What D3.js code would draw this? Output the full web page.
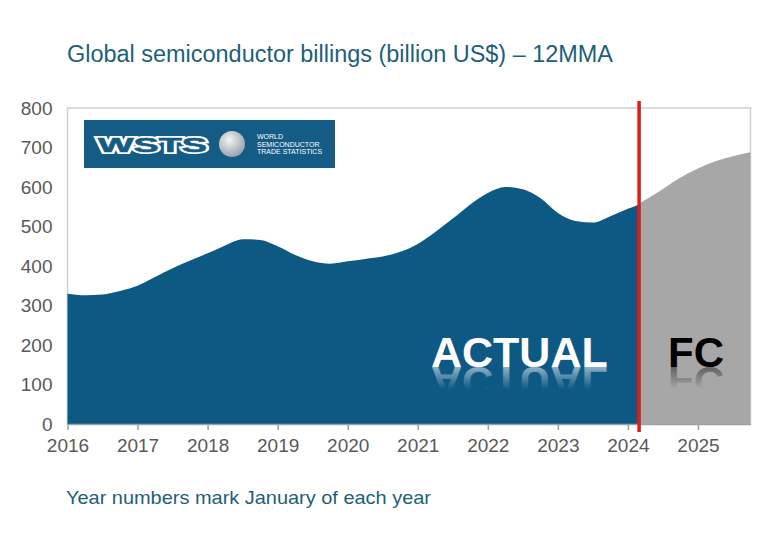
<!DOCTYPE html>
<html>
<head>
<meta charset="utf-8">
<script src="https://cdn.jsdelivr.net/npm/d3@7"></script>
<style>
  body { margin: 0; background: #fff; }
  svg text { font-family: "Liberation Sans", Arial, sans-serif; }
</style>
</head>
<body>
<div id="chart"></div>
<script>
// data (year as decimal, billion US$)
const actualYears = [2016.0, 2016.25, 2016.5, 2016.75, 2017.0, 2017.25, 2017.5, 2017.75,
  2018.0, 2018.25, 2018.5, 2018.75, 2019.0, 2019.25, 2019.5, 2019.75,
  2020.0, 2020.25, 2020.5, 2020.75, 2021.0, 2021.25, 2021.5, 2021.75,
  2022.0, 2022.25, 2022.5, 2022.75, 2023.0, 2023.25, 2023.5, 2023.75, 2024.0, 2024.16];
const actualValues = [330, 326, 328, 337, 350, 372, 394, 414,
  432, 452, 468, 466, 450, 428, 412, 406,
  412, 418, 424, 436, 456, 486, 520, 556,
  585, 600, 594, 572, 534, 514, 510, 526, 545, 556];
const fcYears = [2024.16, 2024.5, 2024.75, 2025.0, 2025.25, 2025.5, 2025.75];
const fcValues = [558, 595, 624, 647, 665, 678, 688];
const yearTicks = [2016, 2017, 2018, 2019, 2020, 2021, 2022, 2023, 2024, 2025];
const valueTicks = [0, 100, 200, 300, 400, 500, 600, 700, 800];
const cutYear = 2024.16;

const width = 768, height = 549;
const svg = d3.select("#chart").append("svg")
  .attr("width", width).attr("height", height);

const x = d3.scaleLinear().domain([2016, 2025.75]).range([67.5, 750.5]);
const y = d3.scaleLinear().domain([0, 800]).range([424, 108]);

const defs = svg.append("defs");
const fadeW = defs.append("linearGradient").attr("id", "fadeWhite")
  .attr("x1", 0).attr("y1", 0).attr("x2", 0).attr("y2", 1);
fadeW.append("stop").attr("offset", "0.35").attr("stop-color", "#fff").attr("stop-opacity", 0);
fadeW.append("stop").attr("offset", "1").attr("stop-color", "#fff").attr("stop-opacity", 0.75);
const fadeB = defs.append("linearGradient").attr("id", "fadeBlack")
  .attr("x1", 0).attr("y1", 0).attr("x2", 0).attr("y2", 1);
fadeB.append("stop").attr("offset", "0.35").attr("stop-color", "#000").attr("stop-opacity", 0);
fadeB.append("stop").attr("offset", "1").attr("stop-color", "#000").attr("stop-opacity", 0.6);
const globe = defs.append("radialGradient").attr("id", "globe")
  .attr("cx", "40%").attr("cy", "35%").attr("r", "65%");
globe.append("stop").attr("offset", "0").attr("stop-color", "#f4f4f4");
globe.append("stop").attr("offset", "1").attr("stop-color", "#9aa4ab");

// title
svg.append("text")
  .attr("x", 67).attr("y", 62)
  .attr("textLength", 546).attr("lengthAdjust", "spacingAndGlyphs")
  .style("font-size", "23px").style("fill", "#1d5f78")
  .text("Global semiconductor billings (billion US$) \u2013 12MMA");

// plot frame
svg.append("rect")
  .attr("x", x(2016)).attr("y", y(800))
  .attr("width", x(2025.75) - x(2016)).attr("height", y(0) - y(800))
  .attr("fill", "none").attr("stroke", "#cfcfcf").attr("stroke-width", 1.5);

// areas
const area = d3.area()
  .x(d => x(d[0])).y0(y(0)).y1(d => y(d[1]))
  .curve(d3.curveMonotoneX);

svg.append("path")
  .datum(fcYears.map((d, i) => [d, fcValues[i]]))
  .attr("d", area).attr("fill", "#a7a7a7");

svg.append("path")
  .datum(actualYears.map((d, i) => [d, actualValues[i]]))
  .attr("d", area).attr("fill", "#0e5984");

// logo
const logo = svg.append("g");
logo.append("rect").attr("x", 84).attr("y", 120).attr("width", 251).attr("height", 48)
  .attr("fill", "#145b85");
logo.append("text").attr("x", 98).attr("y", 152)
  .attr("textLength", 109).attr("lengthAdjust", "spacingAndGlyphs")
  .style("font-size", "21px").style("font-weight", "bold")
  .style("fill", "none").style("stroke", "#fff").style("stroke-width", 4)
  .style("stroke-linejoin", "miter")
  .text("WSTS");
logo.append("text").attr("x", 98).attr("y", 152)
  .attr("textLength", 109).attr("lengthAdjust", "spacingAndGlyphs")
  .style("font-size", "21px").style("font-weight", "bold")
  .style("fill", "#145b85").style("stroke", "#145b85").style("stroke-width", 0.6)
  .text("WSTS");
logo.append("circle").attr("cx", 232).attr("cy", 144).attr("r", 13)
  .attr("fill", "url(#globe)");
logo.selectAll("text.sub")
  .data(["WORLD", "SEMICONDUCTOR", "TRADE STATISTICS"])
  .join("text").attr("class", "sub")
  .attr("x", 257).attr("y", (d, i) => 139 + i * 7.5)
  .style("font-size", "7px").style("fill", "#fff")
  .text(d => d);

// labels with reflections
function label(txt, x0, base, size, fill, grad) {
  svg.append("text").attr("x", x0).attr("y", base)
    .style("font-size", size + "px").style("font-weight", "bold").style("fill", fill)
    .text(txt);
  svg.append("text").attr("x", x0).attr("y", -base)
    .attr("transform", "scale(1,-1)")
    .style("font-size", size + "px").style("font-weight", "bold")
    .style("fill", "url(#" + grad + ")")
    .text(txt);
}
label("ACTUAL", 431, 367, 43, "#fff", "fadeWhite");
label("FC", 668, 367, 42, "#000", "fadeBlack");

// axes
const yAxis = svg.append("g")
  .attr("transform", `translate(${x(2016)},0)`)
  .call(d3.axisLeft(y).tickValues(valueTicks).tickSize(0).tickPadding(15));
yAxis.select(".domain").remove();
yAxis.selectAll("text").style("font-size", "19px").style("fill", "#595959");

const xAxis = svg.append("g")
  .attr("transform", `translate(0,${y(0)})`)
  .call(d3.axisBottom(x).tickValues(yearTicks).tickFormat(d3.format("d"))
    .tickSize(6).tickSizeOuter(0).tickPadding(9));
xAxis.select(".domain").attr("stroke", "#a0a0a0").attr("stroke-width", 1.5);
xAxis.selectAll(".tick line").attr("stroke", "#a0a0a0").attr("stroke-width", 1.5);
xAxis.selectAll("text").style("font-size", "19px").style("fill", "#595959");

// cut line between actual and forecast
svg.append("line")
  .attr("x1", x(cutYear)).attr("x2", x(cutYear))
  .attr("y1", 101).attr("y2", 432)
  .attr("stroke", "#dd1c1c").attr("stroke-width", 3.5);

// footnote
svg.append("text")
  .attr("x", 66).attr("y", 504)
  .attr("textLength", 365).attr("lengthAdjust", "spacingAndGlyphs")
  .style("font-size", "18.5px").style("fill", "#1d5f78")
  .text("Year numbers mark January of each year");
</script>
</body>
</html>
